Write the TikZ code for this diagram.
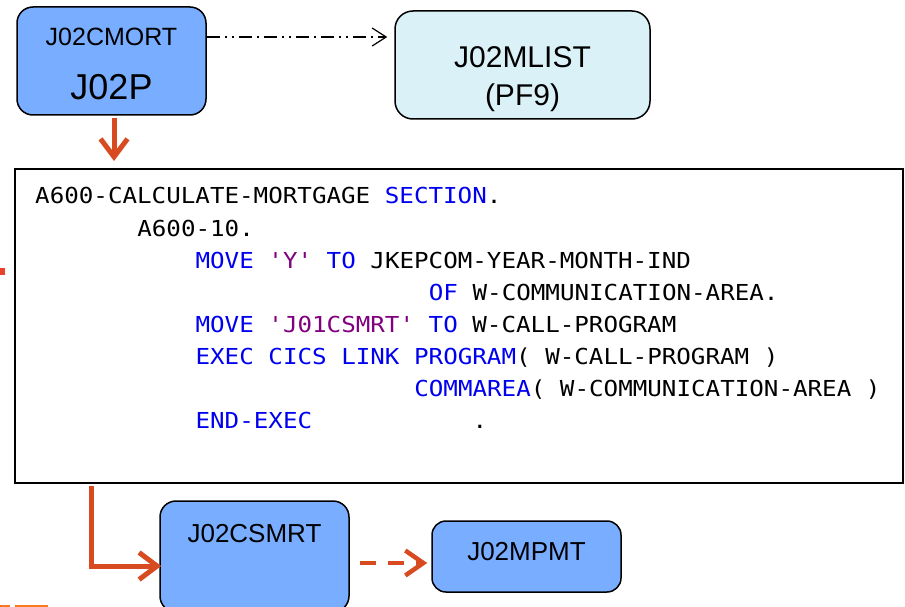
\documentclass[tikz,border=0pt]{standalone}
\usepackage{fontspec}
\setmainfont{Liberation Sans}
\setmonofont[FakeStretch=1.1]{DejaVu Sans Mono}
\usetikzlibrary{arrows.meta}
\definecolor{boxblue}{RGB}{120,173,255}
\definecolor{boxcyan}{RGB}{218,242,247}
\definecolor{arrorange}{RGB}{216,75,32}
\definecolor{kwblue}{RGB}{0,0,240}
\definecolor{litpurple}{RGB}{128,0,128}
\definecolor{markred}{RGB}{232,65,44}
\definecolor{txtorange}{RGB}{250,120,30}
\newcommand{\kw}[1]{\textcolor{kwblue}{#1}}
\newcommand{\lit}[1]{\textcolor{litpurple}{#1}}
\begin{document}
\begin{tikzpicture}[x=1pt,y=-1pt,
  progbox/.style={draw=black, line width=1.5pt, rounded corners=16pt, inner sep=0pt},
  codeline/.style={font=\ttfamily\fontsize{22}{30}\selectfont, anchor=base west, inner sep=0pt},
  boxtext/.style={anchor=base, inner sep=0pt},
  orangearrow/.style={draw=arrorange, line width=5pt, line join=miter,
    -{Straight Barb[length=18pt,width=27pt]}},
  ddarrow/.style={draw=black, line width=1.2pt,
    dash pattern=on 13pt off 5pt on 2pt off 5pt on 2pt off 5pt on 13pt off 5pt on 2pt off 5pt,
    -{Straight Barb[length=14pt,width=18pt]}},
  dasharrow/.style={draw=arrorange, line width=4.5pt, dash pattern=on 16pt off 12pt,
    -{Straight Barb[length=18pt,width=25pt]}}
]
\useasboundingbox (0,0) rectangle (905,607);
\clip (0,0) rectangle (905,607);

% boxes
\node[progbox, fill=boxblue, minimum width=189pt, minimum height=108pt] (j02p) at (111.5,61) {};
\node[progbox, fill=boxcyan, rounded corners=18pt, minimum width=255pt, minimum height=108pt] (mlist) at (522.5,65) {};
\node[draw=black, line width=2pt, inner sep=0pt, minimum width=888pt, minimum height=314pt] (code) at (459,326) {};
\node[progbox, fill=boxblue, minimum width=189pt, minimum height=111pt] (csmrt) at (254.5,556.5) {};
\node[progbox, fill=boxblue, rounded corners=14pt, minimum width=189pt, minimum height=71pt] (mpmt) at (526.5,556.5) {};

% box texts
\node[boxtext, font=\fontsize{25}{30}\selectfont] (t1) at (111.5,46) {J02CMORT};
\node[boxtext, font=\fontsize{36}{40}\selectfont] (t2) at (111.5,100) {J02P};
\node[boxtext, font=\fontsize{30}{36}\selectfont] (t3) at (522.5,68) {J02MLIST};
\node[boxtext, font=\fontsize{30}{36}\selectfont] (t4) at (522.5,106) {(PF9)};
\node[boxtext, font=\fontsize{26}{30}\selectfont] (t5) at (254.5,542) {J02CSMRT};
\node[boxtext, font=\fontsize{26}{30}\selectfont] (t6) at (526.5,560) {J02MPMT};

% code lines (column width 14.58)
\node[codeline] (c1) at (35,204) {A600-CALCULATE-MORTGAGE \kw{SECTION}.};
\node[codeline] (c2) at (137.1,236) {A600-10.};
\node[codeline] (c3) at (195.4,268) {\kw{MOVE} \lit{'Y'} \kw{TO} JKEPCOM-YEAR-MONTH-IND};
\node[codeline] (c4) at (428.7,300) {\kw{OF} W-COMMUNICATION-AREA.};
\node[codeline] (c5) at (195.4,332) {\kw{MOVE} \lit{'J01CSMRT'} \kw{TO} W-CALL-PROGRAM};
\node[codeline] (c6) at (195.4,364) {\kw{EXEC CICS LINK PROGRAM}( W-CALL-PROGRAM )};
\node[codeline] (c7) at (414.1,396) {\kw{COMMAREA}( W-COMMUNICATION-AREA )};
\node[codeline] (c8) at (195.4,428) {\kw{END-EXEC}};
\node[codeline] (c9) at (472.4,428) {.};

% connectors
\coordinate (d1) at (j02p.east |- 0,37);
\draw[ddarrow, shorten >=7pt] (d1) -- (d1 -| mlist.west);

\coordinate (o1) at (114,118);
\draw[orangearrow, shorten >=7pt] (o1) -- (o1 |- code.north);

\coordinate (e1) at (91,486);
\coordinate (e2) at (91,566);
\draw[orangearrow, shorten >=-2pt] (e1) -- (e2) -- (e2 -| csmrt.west);

\coordinate (f1) at (csmrt.east |- 0,563);
\draw[dasharrow, shorten <=10pt, shorten >=4pt] (f1) -- (f1 -| mpmt.west);

% cropped fragments at the edges
\fill[markred] (0,268) rectangle (5,275);
\fill[txtorange] (0,604.5) rectangle (10,607);
\fill[txtorange] (15,604.5) rectangle (48,607);
\end{tikzpicture}
\end{document}
